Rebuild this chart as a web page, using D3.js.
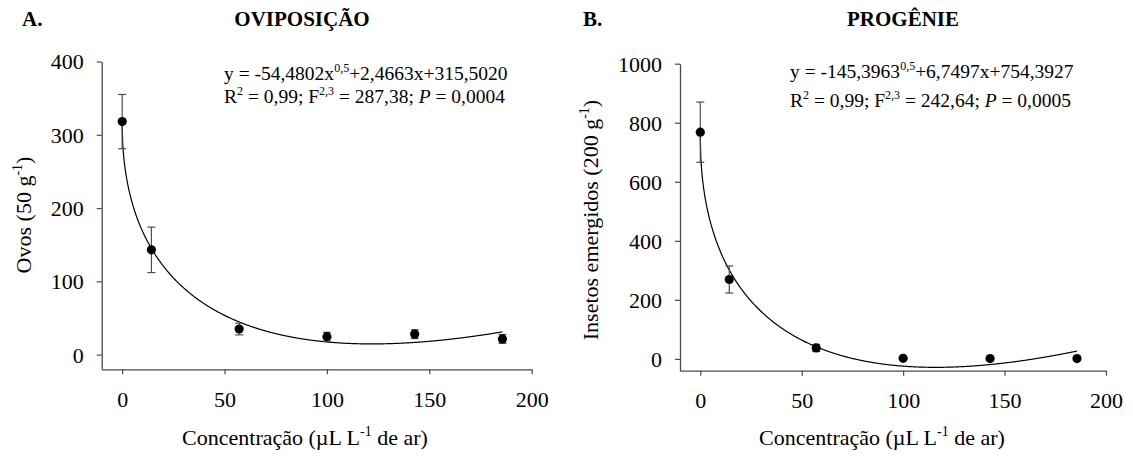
<!DOCTYPE html>
<html>
<head>
<meta charset="utf-8">
<script src="https://cdn.jsdelivr.net/npm/d3@7"></script>
<style>
  html, body { margin: 0; padding: 0; background: #fff; }
  svg { display: block; }
  svg text { font-family: "Liberation Serif", "Times New Roman", serif; }
</style>
</head>
<body>
<svg id="chart" width="1133" height="456"></svg>
<script>
// ---- data ----
const concentrations = [0, 14.28, 57.14, 100, 142.86, 185.71];
const ovosMean = [318, 143, 35, 24.5, 28, 21.5];
const ovosErr = [37, 31, 8, 6, 6, 6];
const progenieMean = [768, 269, 37, 2, 1, 1];
const progenieErr = [102, 46, 12, 0, 0, 0];
// fitted model coefficients: y = a*x^0.5 + b*x + c
const ovosCoef = [-54.4802, 2.4663, 315.5020];
const progenieCoef = [-145.3963, 6.7497, 754.3927];
const xTicks = [0, 50, 100, 150, 200];
const ovosTicks = [0, 100, 200, 300, 400];
const progenieTicks = [0, 200, 400, 600, 800, 1000];

const svg = d3.select("#chart");
const AXIS = "#4a4a4a";
const SERIF = '"Liberation Serif", "Times New Roman", serif';

function panel(cfg) {
  const g = svg.append("g");
  const x = d3.scaleLinear().domain(cfg.xDomain).range(cfg.xRange);
  const y = d3.scaleLinear().domain(cfg.yDomain).range(cfg.yRange);

  // axes
  const xAxis = d3.axisBottom(x).tickValues(xTicks).tickFormat(d3.format("d"))
    .tickSize(5).tickPadding(17).tickSizeOuter(0);
  const gx = g.append("g").attr("transform", `translate(0,${cfg.yRange[0]})`).call(xAxis);
  const yAxis = d3.axisLeft(y).tickValues(cfg.yTicks).tickFormat(d3.format("d"))
    .tickSize(5).tickPadding(13).tickSizeOuter(0);
  const gy = g.append("g").attr("transform", `translate(${cfg.xRange[0]},0)`).call(yAxis);
  [gx, gy].forEach(a => {
    a.attr("font-family", SERIF).attr("font-size", 22);
    a.selectAll("path.domain").attr("stroke", AXIS).attr("stroke-width", 1.3);
    a.selectAll(".tick line").attr("stroke", AXIS).attr("stroke-width", 1.2);
    a.selectAll(".tick text").attr("fill", "#000")
      .attr("font-family", SERIF).style("font-family", SERIF).style("font-size", "22px");
  });
  gy.selectAll(".tick text").attr("dy", "0.34em");

  // fitted curve
  const c = cfg.coef;
  const xmax = d3.max(concentrations);
  const xs = d3.range(0, xmax, 0.25).concat([xmax]);
  const line = d3.line().x(d => x(d)).y(d => y(c[0] * Math.sqrt(d) + c[1] * d + c[2]));
  g.append("path").datum(xs).attr("d", line)
    .attr("fill", "none").attr("stroke", "#000").attr("stroke-width", 1.2);

  // error bars
  const eb = g.append("g").attr("stroke", "#4d4d4d").attr("stroke-width", 1.2);
  concentrations.forEach((cx, i) => {
    const e = cfg.err[i];
    if (!e) return;
    const px = x(cx), top = y(cfg.mean[i] + e), bot = y(cfg.mean[i] - e);
    eb.append("line").attr("x1", px).attr("x2", px).attr("y1", top).attr("y2", bot);
    eb.append("line").attr("x1", px - 4).attr("x2", px + 4).attr("y1", top).attr("y2", top);
    eb.append("line").attr("x1", px - 4).attr("x2", px + 4).attr("y1", bot).attr("y2", bot);
  });

  // points
  g.selectAll("circle.pt").data(concentrations).enter().append("circle")
    .attr("cx", d => x(d)).attr("cy", (d, i) => y(cfg.mean[i])).attr("r", 4.6).attr("fill", "#000");

  // panel letter and title
  g.append("text").attr("x", cfg.letterX).attr("y", 26).text(cfg.letter)
    .style("font-size", "21px").style("font-weight", "bold");
  g.append("text").attr("x", cfg.titleX).attr("y", 26).attr("text-anchor", "middle").text(cfg.title)
    .style("font-size", "21px").style("font-weight", "bold");

  // axis titles
  const xl = g.append("text").attr("x", cfg.xLabelX).attr("y", 445)
    .attr("text-anchor", "middle").style("font-size", "22px");
  xl.append("tspan").text("Concentração (µL L");
  xl.append("tspan").attr("dy", -9).style("font-size", "14px").text("-1");
  xl.append("tspan").attr("dy", 9).text(" de ar)");

  const yl = g.append("text").attr("transform", `translate(${cfg.yLabelX},${cfg.yLabelY}) rotate(-90)`)
    .attr("text-anchor", "middle").style("font-size", "22px");
  yl.append("tspan").text(cfg.yLabel);
  yl.append("tspan").attr("dy", -9).style("font-size", "14px").text("-1");
  yl.append("tspan").attr("dy", 9).text(")");

  // equation
  const eq1 = g.append("text").attr("x", cfg.eqX).attr("y", cfg.eqY1).style("font-size", "19.5px");
  eq1.append("tspan").text(cfg.eqA);
  eq1.append("tspan").attr("dy", -8).style("font-size", "12px").text("0,5");
  eq1.append("tspan").attr("dy", 8).text(cfg.eqB);
  const eq2 = g.append("text").attr("x", cfg.eqX).attr("y", cfg.eqY2).style("font-size", "19.5px");
  eq2.append("tspan").text("R");
  eq2.append("tspan").attr("dy", -8).style("font-size", "12px").text("2");
  eq2.append("tspan").attr("dy", 8).text(" = 0,99; F");
  eq2.append("tspan").attr("dy", -8).style("font-size", "12px").text("2,3");
  eq2.append("tspan").attr("dy", 8).text(` = ${cfg.F}; `);
  eq2.append("tspan").style("font-style", "italic").text("P");
  eq2.append("tspan").text(` = ${cfg.P}`);
}

panel({
  xDomain: [-10, 200], xRange: [101.7, 531.7],
  yDomain: [-20, 400], yRange: [369.3, 61.5],
  yTicks: ovosTicks, mean: ovosMean, err: ovosErr, coef: ovosCoef,
  letter: "A.", letterX: 22, title: "OVIPOSIÇÃO", titleX: 302,
  yLabel: "Ovos (50 g", yLabelX: 31, yLabelY: 215, xLabelX: 305,
  eqX: 224, eqY1: 80, eqY2: 103,
  eqA: "y = -54,4802x", eqB: "+2,4663x+315,5020", F: "287,38", P: "0,0004"
});
panel({
  xDomain: [-10, 200], xRange: [680, 1106],
  yDomain: [-40, 1000], yRange: [370.7, 63.7],
  yTicks: progenieTicks, mean: progenieMean, err: progenieErr, coef: progenieCoef,
  letter: "B.", letterX: 583, title: "PROGÊNIE", titleX: 903,
  yLabel: "Insetos emergidos (200 g", yLabelX: 598, yLabelY: 220, xLabelX: 882,
  eqX: 790, eqY1: 78, eqY2: 107,
  eqA: "y = -145,3963", eqB: "+6,7497x+754,3927", F: "242,64", P: "0,0005"
});
</script>
</body>
</html>
